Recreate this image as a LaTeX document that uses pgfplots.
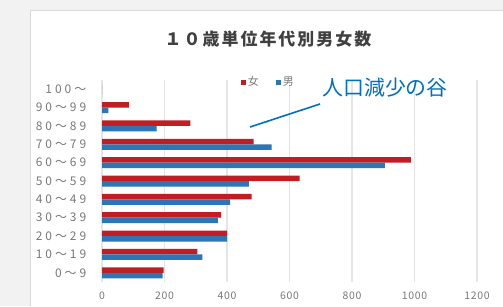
\documentclass[border=0pt]{standalone}
\usepackage{fontspec}
\setmainfont{Noto Sans CJK JP}
\newfontfamily\spaced[LetterSpace=25]{Noto Sans CJK JP}
\newfontfamily\lightspaced[LetterSpace=6]{Noto Sans CJK JP}
\newfontfamily\titlefont[LetterSpace=12]{Noto Sans CJK JP}
\usepackage{pgfplots}
\pgfplotsset{compat=1.18}
\definecolor{fem}{RGB}{192,30,34}
\definecolor{mal}{RGB}{46,117,182}
\definecolor{lbl}{RGB}{120,120,120}
\definecolor{ann}{RGB}{0,112,192}
\definecolor{ttl}{RGB}{64,64,64}
\begin{document}
\begin{tikzpicture}[x=1bp,y=1bp]
\fill[black!5] (0,0) rectangle (503,306);
\fill[white] (30,0) rectangle (503,296);
\draw[black!15] (30,0) -- (30,296) -- (503,296);
\begin{axis}[
  at={(102bp,24bp)}, anchor=south west, scale only axis,
  width=375bp, height=202bp,
  xbar, bar width=5.5bp,
  xmin=0, xmax=1200, ymin=-0.5, ymax=10.5,
  xtick={0,200,...,1200},
  ytick={0,...,10},
  yticklabels={0〜9,10〜19,20〜29,30〜39,40〜49,50〜59,60〜69,70〜79,80〜89,90〜99,100〜},
  xmajorgrids, major grid style={black!10, line width=1.2bp},
  axis line style={draw=none}, tick style={draw=none},
  /pgf/number format/assume math mode=true,
  /pgf/number format/1000 sep={},
  yticklabel style={font=\spaced\fontsize{12}{14}\selectfont, text=lbl, xshift=-8bp},
  xticklabel style={font=\lightspaced\fontsize{10.5}{12}\selectfont, text=lbl, yshift=-6bp},
  legend style={at={(0.362,0.99)}, anchor=west, draw=none, fill=none,
    font=\fontsize{11}{13}\selectfont, text=lbl, legend columns=2,
    /tikz/every even column/.append style={column sep=15bp}},
  legend image code/.code={\fill[#1] (0bp,-2.5bp) rectangle (5bp,2.5bp);},
]
\addplot[fill=fem, draw=none, bar shift=2.75bp] coordinates {
(197,0) (305,1) (400,2) (381,3) (479,4) (632,5) (988,6) (485,7) (283,8) (86,9) (0,10)};
\addplot[fill=mal, draw=none, bar shift=-2.75bp] coordinates {
(194,0) (321,1) (400,2) (371,3) (410,4) (470,5) (905,6) (543,7) (175,8) (20,9) (0,10)};
\legend{女,男}
\end{axis}
\node[font=\titlefont\bfseries\fontsize{17}{19}\selectfont, text=ttl] at (268,267) {１０歳単位年代別男女数};
\node[font=\fontsize{21}{23}\selectfont, text=ann] at (385,218) {人口減少の谷};
\draw[ann, line width=1.6bp] (250,179) -- (320,202);
\pgfresetboundingbox
\path[use as bounding box] (0,0) rectangle (503,306);
\end{tikzpicture}
\end{document}
